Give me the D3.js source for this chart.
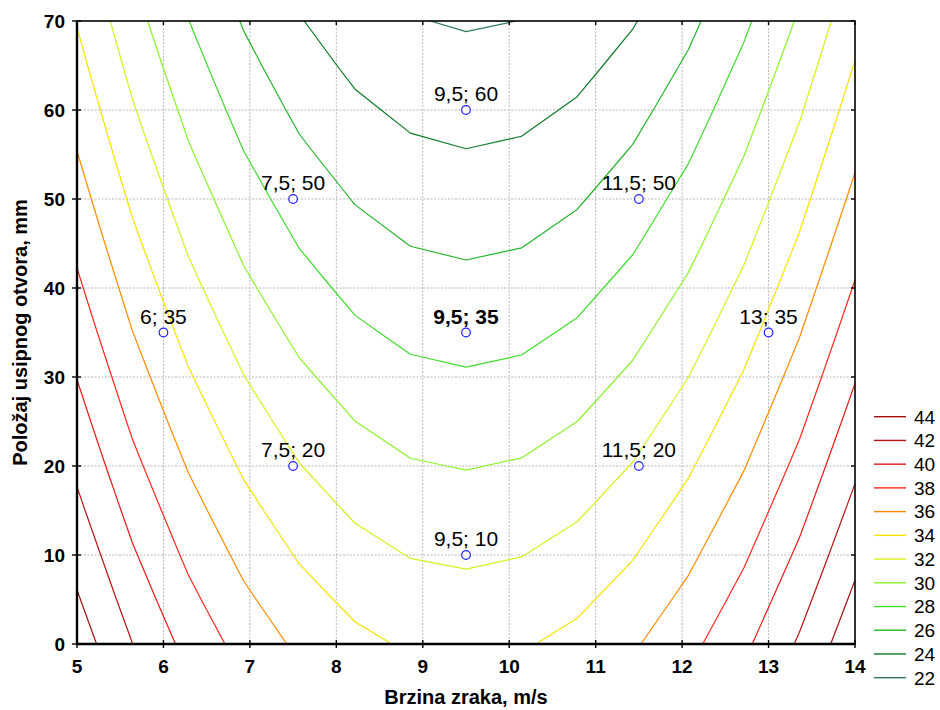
<!DOCTYPE html>
<html><head><meta charset="utf-8">
<script src="https://cdn.jsdelivr.net/npm/d3@7"></script>
<style>
body{margin:0;background:#fff;}
svg{display:block;font-family:"Liberation Sans",Arial,sans-serif;}
</style>
</head><body>
<svg id="chart" width="940" height="710"></svg>
<script>
// ---- data ----
const xNodes = [5, 5.64, 6.29, 6.93, 7.57, 8.21, 8.86, 9.5, 10.14, 10.79, 11.43, 12.07, 12.71, 13.36, 14];
const yNodes = [0, 5, 10, 15, 20, 25, 30, 35, 40, 45, 50, 55, 60, 65, 70];
// fitted surface values at the grid nodes (row = yNodes, column = xNodes)
const zRows = [
  [45.08, 42.01, 39.41, 37.28, 35.63, 34.46, 33.77, 33.55, 33.81, 34.54, 35.75, 37.44, 39.60, 42.25, 45.36],
  [44.19, 41.11, 38.50, 36.37, 34.72, 33.54, 32.84, 32.62, 32.88, 33.61, 34.81, 36.50, 38.66, 41.30, 44.41],
  [43.32, 40.23, 37.61, 35.48, 33.82, 32.64, 31.93, 31.71, 31.96, 32.68, 33.89, 35.57, 37.73, 40.36, 43.47],
  [42.45, 39.36, 36.74, 34.60, 32.93, 31.75, 31.04, 30.80, 31.05, 31.77, 32.97, 34.65, 36.81, 39.44, 42.55],
  [41.60, 38.50, 35.88, 33.73, 32.06, 30.87, 30.15, 29.92, 30.16, 30.88, 32.08, 33.75, 35.90, 38.53, 41.64],
  [40.77, 37.66, 35.03, 32.88, 31.20, 30.01, 29.29, 29.05, 29.28, 30.00, 31.19, 32.86, 35.01, 37.64, 40.75],
  [39.95, 36.84, 34.20, 32.04, 30.36, 29.16, 28.43, 28.19, 28.42, 29.13, 30.32, 31.99, 34.14, 36.76, 39.87],
  [39.14, 36.02, 33.38, 31.21, 29.53, 28.32, 27.59, 27.34, 27.57, 28.28, 29.47, 31.13, 33.27, 35.90, 39.00],
  [38.35, 35.23, 32.57, 30.40, 28.71, 27.50, 26.77, 26.51, 26.74, 27.44, 28.62, 30.29, 32.43, 35.05, 38.15],
  [37.57, 34.44, 31.78, 29.61, 27.91, 26.69, 25.95, 25.70, 25.92, 26.62, 27.79, 29.45, 31.59, 34.21, 37.31],
  [36.81, 33.67, 31.01, 28.83, 27.12, 25.90, 25.16, 24.89, 25.11, 25.81, 26.98, 28.64, 30.77, 33.39, 36.48],
  [36.06, 32.91, 30.24, 28.06, 26.35, 25.12, 24.37, 24.10, 24.32, 25.01, 26.18, 27.83, 29.97, 32.58, 35.67],
  [35.33, 32.17, 29.50, 27.30, 25.59, 24.36, 23.60, 23.33, 23.54, 24.23, 25.39, 27.04, 29.17, 31.78, 34.87],
  [34.60, 31.44, 28.76, 26.56, 24.84, 23.60, 22.85, 22.57, 22.77, 23.46, 24.62, 26.27, 28.40, 31.00, 34.09],
  [33.90, 30.73, 28.04, 25.84, 24.11, 22.87, 22.10, 21.82, 22.02, 22.70, 23.86, 25.51, 27.63, 30.24, 33.31]
];
const levels = [22, 24, 26, 28, 30, 32, 34, 36, 38, 40, 42, 44];
const pointX = [6, 7.5, 7.5, 9.5, 9.5, 9.5, 11.5, 11.5, 13];
const pointY = [35, 20, 50, 10, 35, 60, 20, 50, 35];
const xTicks = [5, 6, 7, 8, 9, 10, 11, 12, 13, 14];
const yTicks = [0, 10, 20, 30, 40, 50, 60, 70];
const xTitle = "Brzina zraka, m/s";
const yTitle = "Položaj usipnog otvora, mm";

// ---- styles ----
const palette = ["#2f7a55", "#0d7a2a", "#22b52a", "#3fdc2c", "#8cf22a", "#d9f01e",
                 "#f5e400", "#ff8a00", "#ff2a1e", "#e41a1a", "#b81414", "#a01010"];
const colorOf = d3.scaleOrdinal().domain(levels).range(palette);

const svg = d3.select("#chart");
const M = {left: 77, top: 21, right: 855, bottom: 644};
const x = d3.scaleLinear().domain([5, 14]).range([M.left, M.right]);
const y = d3.scaleLinear().domain([0, 70]).range([M.bottom, M.top]);

svg.append("defs").append("clipPath").attr("id", "plotclip")
  .append("rect").attr("x", M.left).attr("y", M.top)
  .attr("width", M.right - M.left).attr("height", M.bottom - M.top);

// grid
const grid = svg.append("g");
grid.selectAll("line.gx").data(xTicks.slice(1, -1)).join("line")
  .attr("x1", d => x(d)).attr("x2", d => x(d)).attr("y1", M.top).attr("y2", M.bottom)
  .attr("stroke", "#b8b8b8").attr("stroke-width", 1).attr("stroke-dasharray", "2,1.5");
grid.selectAll("line.gy").data(yTicks.slice(1, -1)).join("line")
  .attr("y1", d => y(d)).attr("y2", d => y(d)).attr("x1", M.left).attr("x2", M.right)
  .attr("stroke", "#b8b8b8").attr("stroke-width", 1).attr("stroke-dasharray", "2,1.5");

// contours
const values = zRows.flat();
const contours = d3.contours().size([xNodes.length, yNodes.length]).thresholds(levels)(values);
const gx = d3.scaleLinear().domain([0.5, xNodes.length - 0.5]).range([xNodes[0], xNodes[xNodes.length - 1]]);
const gy = d3.scaleLinear().domain([0.5, yNodes.length - 0.5]).range([yNodes[0], yNodes[yNodes.length - 1]]);
const proj = d3.geoTransform({point(px, py) { this.stream.point(x(gx(px)), y(gy(py))); }});
const path = d3.geoPath(proj);
svg.append("g").attr("clip-path", "url(#plotclip)")
  .selectAll("path").data(contours).join("path")
  .attr("d", path).attr("fill", "none")
  .attr("stroke", d => colorOf(d.value)).attr("stroke-width", 1.2)
  .attr("stroke-linejoin", "round");

// design points
const pts = pointX.map((v, i) => ({x: v, y: pointY[i]}));
const fmt = v => String(v).replace(".", ",");
const pg = svg.append("g");
pg.selectAll("text").data(pts).join("text")
  .attr("x", d => x(d.x)).attr("y", d => y(d.y) - 9)
  .attr("text-anchor", "middle").attr("font-size", 21)
  .attr("font-weight", d => (d.x === 9.5 && d.y === 35) ? "bold" : "normal")
  .attr("fill", "#000")
  .text(d => fmt(d.x) + "; " + fmt(d.y));
pg.selectAll("circle").data(pts).join("circle")
  .attr("cx", d => x(d.x)).attr("cy", d => y(d.y)).attr("r", 4.3)
  .attr("fill", "#fff").attr("stroke", "#1f1fff").attr("stroke-width", 1.2);

// frame + ticks
const ax = svg.append("g");
ax.append("rect").attr("x", M.left).attr("y", M.top)
  .attr("width", M.right - M.left).attr("height", M.bottom - M.top)
  .attr("fill", "none").attr("stroke", "#000").attr("stroke-width", 1.6);
ax.append("line").attr("x1", M.left).attr("x2", M.left).attr("y1", M.top).attr("y2", M.bottom + 1)
  .attr("stroke", "#000").attr("stroke-width", 2.4);
ax.append("line").attr("x1", M.left - 1).attr("x2", M.right).attr("y1", M.bottom).attr("y2", M.bottom)
  .attr("stroke", "#000").attr("stroke-width", 2.4);
ax.selectAll("line.tb").data(xTicks).join("line")
  .attr("x1", d => x(d)).attr("x2", d => x(d)).attr("y1", M.bottom - 4).attr("y2", M.bottom + 4)
  .attr("stroke", "#000").attr("stroke-width", 1.4);
ax.selectAll("line.tt").data(xTicks).join("line")
  .attr("x1", d => x(d)).attr("x2", d => x(d)).attr("y1", M.top).attr("y2", M.top + 4)
  .attr("stroke", "#000").attr("stroke-width", 1.4);
ax.selectAll("line.tl").data(yTicks).join("line")
  .attr("y1", d => y(d)).attr("y2", d => y(d)).attr("x1", M.left - 5).attr("x2", M.left + 4)
  .attr("stroke", "#000").attr("stroke-width", 1.4);
ax.selectAll("line.tr").data(yTicks).join("line")
  .attr("y1", d => y(d)).attr("y2", d => y(d)).attr("x1", M.right - 4).attr("x2", M.right)
  .attr("stroke", "#000").attr("stroke-width", 1.4);

ax.selectAll("text.xl").data(xTicks).join("text")
  .attr("x", d => x(d)).attr("y", M.bottom + 29)
  .attr("text-anchor", "middle").attr("font-size", 19).attr("font-weight", "bold")
  .text(d => d);
ax.selectAll("text.yl").data(yTicks).join("text")
  .attr("x", M.left - 12).attr("y", d => y(d)).attr("dy", "0.36em")
  .attr("text-anchor", "end").attr("font-size", 19).attr("font-weight", "bold")
  .text(d => d);
svg.append("text").attr("x", (M.left + M.right) / 2).attr("y", 704)
  .attr("text-anchor", "middle").attr("font-size", 20).attr("font-weight", "bold").text(xTitle);
svg.append("text").attr("transform", `translate(27,${(M.top + M.bottom) / 2}) rotate(-90)`)
  .attr("text-anchor", "middle").attr("font-size", 20).attr("font-weight", "bold").text(yTitle);

// legend
const legendLevels = levels.slice().reverse();
const lg = svg.append("g");
const ly = d3.scalePoint().domain(legendLevels).range([416.7, 677.7]);
lg.selectAll("line").data(legendLevels).join("line")
  .attr("x1", 874).attr("x2", 906).attr("y1", d => ly(d)).attr("y2", d => ly(d))
  .attr("stroke", d => colorOf(d)).attr("stroke-width", 1.4);
lg.selectAll("text").data(legendLevels).join("text")
  .attr("x", 914).attr("y", d => ly(d)).attr("dy", "0.36em")
  .attr("font-size", 19).text(d => d);
</script>
</body></html>
